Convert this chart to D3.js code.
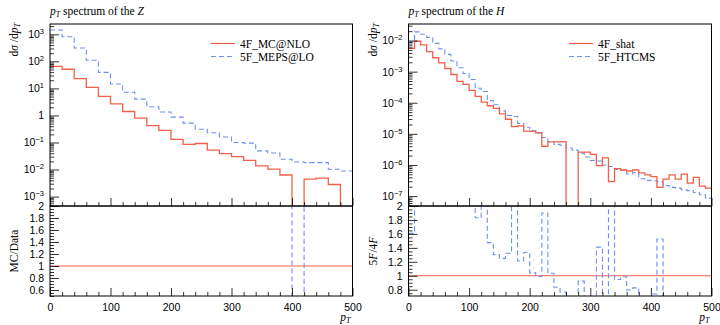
<!DOCTYPE html>
<html>
<head>
<meta charset="utf-8">
<script src="https://cdn.jsdelivr.net/npm/d3@7"></script>
<style>
body { margin: 0; background: #fff; }
svg { display: block; font-family: "Liberation Serif", "DejaVu Serif", serif; }
</style>
</head>
<body>
<svg id="chart" width="720" height="325"></svg>
<script>
// --- data: pT spectrum of the Z, 20 GeV bins
var zEdges = d3.range(0, 501, 20);
var z4F = [65, 51, 23, 11, 5.1, 2.7, 1.4, 0.8, 0.42, 0.28, 0.13, 0.085, 0.092,
    0.052, 0.039, 0.030, 0.022, 0.0137, 0.0103, 0.0063, 0, 0.0044, 0.0048, 0.0028, 0.0001];
var z5F = [1440, 815, 310, 110, 39, 14.5, 7.2, 4.0, 2.1, 1.34, 0.87, 0.52, 0.31,
    0.23, 0.16, 0.10, 0.095, 0.049, 0.041, 0.024, 0.019, 0.018, 0.018, 0.0103, 0.0089];
var zNames = ["4F_MC@NLO", "5F_MEPS@LO"];

// --- data: pT spectrum of the H, 10 GeV bins
var hEdges = d3.range(0, 501, 10);
var h4F = [5.6e-3, 9.5e-3, 7.2e-3, 4.4e-3, 2.8e-3, 1.9e-3, 1.26e-3, 8.1e-4, 4.9e-4, 3.9e-4,
    2.5e-4, 1.6e-4, 1.05e-4, 8.0e-5, 6.6e-5, 4.4e-5, 2.95e-5, 1.7e-5, 1.8e-5, 1.23e-5,
    1.2e-5, 1.07e-5, 4.0e-6, 5.5e-6, 5.5e-6, 5.6e-6, 0, 0, 2.6e-6, 2.6e-6,
    2.2e-6, 9.5e-7, 1.7e-6, 2.9e-7, 7.6e-7, 6.9e-7, 6.4e-7, 6.9e-7, 5.6e-7, 4.8e-7,
    4.2e-7, 1.9e-7, 3.5e-7, 4.8e-7, 3.5e-7, 5.1e-7, 2.6e-7, 4.0e-7, 2.1e-7, 1.8e-7];
var h5F = [9.0e-3, 1.9e-2, 1.6e-2, 1.26e-2, 8.1e-3, 5.4e-3, 3.6e-3, 2.2e-3, 1.33e-3, 8.7e-4,
    5.6e-4, 2.93e-4, 2.3e-4, 1.18e-4, 8.6e-5, 5.5e-5, 3.9e-5, 3.6e-5, 2.18e-5, 1.64e-5,
    1.25e-5, 1.06e-5, 7.6e-6, 5.7e-6, 4.6e-6, 4.3e-6, 3.5e-6, 3.0e-6, 2.4e-6, 1.8e-6,
    1.4e-6, 1.34e-6, 1.0e-6, 8.9e-7, 7.2e-7, 6.8e-7, 5.1e-7, 5.7e-7, 3.6e-7, 3.2e-7,
    3.1e-7, 2.9e-7, 2.2e-7, 1.9e-7, 1.8e-7, 1.6e-7, 1.5e-7, 1.3e-7, 1.1e-7, 8.5e-8];
var hNames = ["4F_shat", "5F_HTCMS"];

var xTicks = [0, 100, 200, 300, 400, 500];

var RED = "#f2604a", BLUE = "#6f8ff0";
var plotTop = 24, plotMid = 206, plotBottom = 296;

var svg = d3.select("#chart");

drawPanel({
    id: "z", left: 50, right: 352.5,
    title: "Z", edges: zEdges, ref: z4F, alt: z5F, names: zNames,
    yDomain: [4.5e-4, 2400], decades: d3.range(-3, 4),
    rDomain: [0.5, 2], rLabel: "MC/Data", legendX: 211
});
drawPanel({
    id: "h", left: 408.5, right: 711.5,
    title: "H", edges: hEdges, ref: h4F, alt: h5F, names: hNames,
    yDomain: [4.8e-8, 0.034], decades: d3.range(-7, -1),
    rDomain: [0.71, 2], rLabel: "5F/4F", legendX: 569
});

function steps(edges, vals) {
    var pts = [];
    vals.forEach(function (v, i) {
        pts.push([edges[i], v]);
        pts.push([edges[i + 1], v]);
    });
    return pts;
}

function supLabel(sel, base, exp) {
    sel.text(base);
    if (exp !== null) {
        sel.append("tspan").attr("dy", -4).attr("font-size", "7.5px").text(exp);
    }
}

function drawPanel(p) {
    var g = svg.append("g");
    var x = d3.scaleLinear().domain([0, 500]).range([p.left, p.right]);
    var y = d3.scaleLog().domain(p.yDomain).range([plotMid, plotTop]);
    var yr = d3.scaleLinear().domain(p.rDomain).range([plotBottom, plotMid]);

    // clip areas
    var defs = svg.append("defs");
    defs.append("clipPath").attr("id", "clip-main-" + p.id)
        .append("rect").attr("x", p.left).attr("y", plotTop)
        .attr("width", p.right - p.left).attr("height", plotMid - plotTop);
    defs.append("clipPath").attr("id", "clip-ratio-" + p.id)
        .append("rect").attr("x", p.left).attr("y", plotMid)
        .attr("width", p.right - p.left).attr("height", plotBottom - plotMid);

    // histograms
    var line = d3.line()
        .x(function (d) { return x(d[0]); })
        .y(function (d) { return Math.min(2000, y(Math.max(d[1], 1e-20))); });
    var main = g.append("g").attr("clip-path", "url(#clip-main-" + p.id + ")")
        .attr("fill", "none");
    main.append("path").attr("d", line(steps(p.edges, p.alt)))
        .attr("stroke", BLUE).attr("stroke-width", 1.1).attr("stroke-dasharray", "5,3");
    main.append("path").attr("d", line(steps(p.edges, p.ref)))
        .attr("stroke", RED).attr("stroke-width", 1.3);

    // ratio
    var ratio = p.alt.map(function (v, i) { return p.ref[i] > 0 ? v / p.ref[i] : 0; });
    var rline = d3.line()
        .x(function (d) { return x(d[0]); })
        .y(function (d) { return Math.max(-1000, Math.min(2000, yr(d[1]))); });
    var rg = g.append("g").attr("clip-path", "url(#clip-ratio-" + p.id + ")")
        .attr("fill", "none");
    rg.append("path").attr("d", rline([[0, 1], [500, 1]]))
        .attr("stroke", RED).attr("stroke-width", 1.1);
    rg.append("path").attr("d", rline(steps(p.edges, ratio)))
        .attr("stroke", BLUE).attr("stroke-width", 1.1).attr("stroke-dasharray", "5,3");

    // x ticks (inward) on both panels
    var minorX = d3.range(0, 501, 20).filter(function (v) { return v % 100 !== 0; });
    [plotMid, plotBottom].forEach(function (yy) {
        g.append("g").attr("transform", "translate(0," + yy + ")")
            .call(d3.axisBottom(x).tickValues(xTicks).tickSize(-8).tickFormat(""));
        g.append("g").attr("transform", "translate(0," + yy + ")")
            .call(d3.axisBottom(x).tickValues(minorX).tickSize(-4).tickFormat(""));
    });
    var xl = g.append("g").attr("transform", "translate(0," + plotBottom + ")")
        .call(d3.axisBottom(x).tickValues(xTicks).tickSize(0).tickPadding(8)
            .tickFormat(d3.format("d")));
    xl.selectAll("text").attr("font-size", "10.5px").attr("font-family", null);

    // log y axis
    var minorY = [];
    d3.range(p.decades[0] - 1, p.decades[p.decades.length - 1] + 1).forEach(function (e) {
        for (var k = 2; k <= 9; k++) {
            var v = k * Math.pow(10, e);
            if (v >= p.yDomain[0] && v <= p.yDomain[1]) minorY.push(v);
        }
    });
    g.append("g").attr("transform", "translate(" + p.left + ",0)")
        .call(d3.axisLeft(y).tickValues(minorY).tickSize(-4).tickFormat(""));
    var ya = g.append("g").attr("transform", "translate(" + p.left + ",0)")
        .call(d3.axisLeft(y).tickValues(p.decades.map(function (e) { return Math.pow(10, e); }))
            .tickSize(-9).tickPadding(6).tickFormat(""));
    ya.selectAll(".tick text").each(function (d) {
        var e = Math.round(Math.log10(d));
        var t = d3.select(this).attr("font-size", "10.5px").attr("font-family", null);
        if (e === 0) supLabel(t, "1", null);
        else supLabel(t, "10", e < 0 ? "\u2212" + (-e) : String(e));
    });

    // ratio y axis
    var rMajor = d3.range(Math.ceil(p.rDomain[0] * 5), 11).map(function (v) { return v / 5; });
    var rMinor = d3.range(Math.ceil(p.rDomain[0] * 20), 41).map(function (v) { return v / 20; })
        .filter(function (v) { return Math.round(v * 20) % 4 !== 0; });
    g.append("g").attr("transform", "translate(" + p.left + ",0)")
        .call(d3.axisLeft(yr).tickValues(rMinor).tickSize(-4).tickFormat(""));
    var ra = g.append("g").attr("transform", "translate(" + p.left + ",0)")
        .call(d3.axisLeft(yr).tickValues(rMajor).tickSize(-9).tickPadding(6)
            .tickFormat(d3.format(".1~f")));
    ra.selectAll("text").attr("font-size", "10.5px").attr("font-family", null);

    g.selectAll(".domain").attr("stroke", "none");
    g.selectAll(".tick line").attr("stroke", "#000").attr("stroke-width", 0.8);

    // frames
    [[plotTop, plotMid], [plotMid, plotBottom]].forEach(function (r) {
        g.append("rect").attr("x", p.left).attr("y", r[0])
            .attr("width", p.right - p.left).attr("height", r[1] - r[0])
            .attr("fill", "none").attr("stroke", "#000").attr("stroke-width", 1);
    });

    // title
    var tt = g.append("text").attr("x", p.left).attr("y", 15).attr("font-size", "11.5px");
    tt.append("tspan").attr("font-style", "italic").text("p");
    tt.append("tspan").attr("font-style", "italic").attr("font-size", "8px").attr("dy", 2).text("T");
    tt.append("tspan").attr("dy", -2).text(" spectrum of the ");
    tt.append("tspan").attr("font-style", "italic").text(p.title);

    // axis titles
    var yl = g.append("text").attr("font-size", "11.5px").attr("text-anchor", "end")
        .attr("transform", "translate(" + (p.left - 32) + "," + (plotTop - 1) + ") rotate(-90)");
    yl.append("tspan").text("d");
    yl.append("tspan").attr("font-style", "italic").text("\u03c3");
    yl.append("tspan").text(" /d");
    yl.append("tspan").attr("font-style", "italic").text("p");
    yl.append("tspan").attr("font-style", "italic").attr("font-size", "8px").attr("dy", 2).text("T");

    var rl = g.append("text").attr("font-size", "11.5px").attr("text-anchor", "middle")
        .attr("transform", "translate(" + (p.left - 32) + "," + ((plotMid + plotBottom) / 2) + ") rotate(-90)");
    if (p.id === "h") {
        rl.append("tspan").text("5");
        rl.append("tspan").attr("font-style", "italic").text("F");
        rl.append("tspan").text("/4");
        rl.append("tspan").attr("font-style", "italic").text("F");
    } else {
        rl.text(p.rLabel);
    }

    var xt = g.append("text").attr("x", p.right - 2).attr("y", 321)
        .attr("text-anchor", "end").attr("font-size", "11.5px").attr("font-style", "italic");
    xt.append("tspan").text("p");
    xt.append("tspan").attr("font-size", "8px").attr("dy", 2).text("T");

    // legend
    var lg = g.append("g").attr("font-size", "11.5px");
    [[RED, null, 43.5], [BLUE, "5,3", 56.5]].forEach(function (s, i) {
        lg.append("line").attr("x1", p.legendX).attr("x2", p.legendX + 24)
            .attr("y1", s[2]).attr("y2", s[2])
            .attr("stroke", s[0]).attr("stroke-width", 1.2)
            .attr("stroke-dasharray", s[1]);
        lg.append("text").attr("x", p.legendX + 29).attr("y", s[2] + 4).text(p.names[i]);
    });
}
</script>
</body>
</html>
